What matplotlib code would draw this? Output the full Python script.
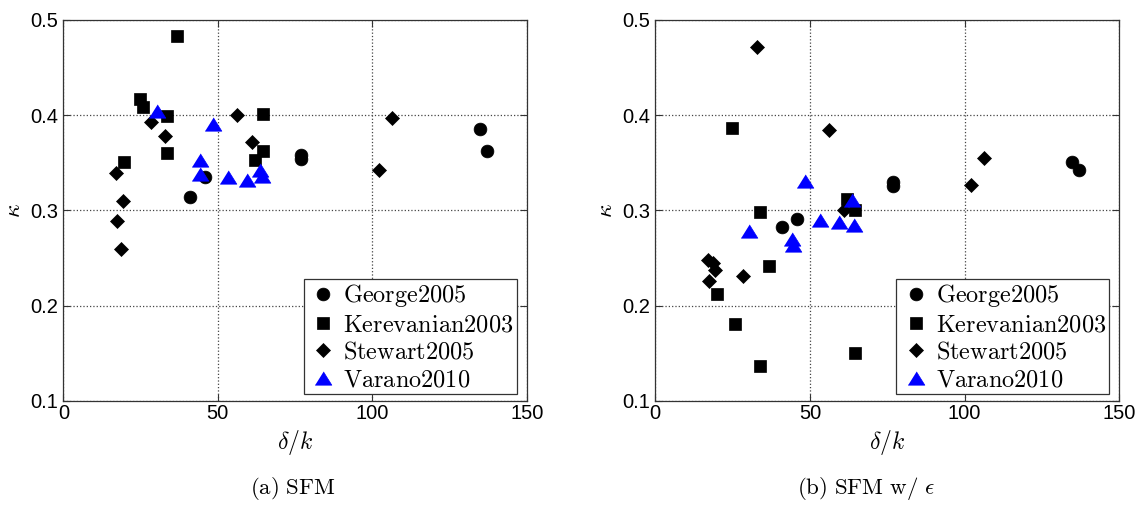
import matplotlib.pyplot as plt

plt.rcParams['mathtext.fontset'] = 'cm'
plt.rcParams['font.family'] = ['Liberation Sans', 'DejaVu Sans']

# delta/k for each data set (same stations in both panels)
george_x = [41.0, 45.9, 77.0, 77.0, 134.8, 137.1]
kerev_x = [36.7, 24.8, 25.7, 33.7, 33.7, 19.8, 64.7, 64.7, 61.9]
stewart_x = [28.3, 33.0, 17.1, 19.2, 17.3, 18.6, 56.2, 61.1, 106.3, 102.2]
varano_x = [30.3, 48.3, 44.2, 44.4, 53.2, 59.5, 63.6, 64.3]

# kappa from SFM
george_sfm = [0.314, 0.335, 0.354, 0.358, 0.386, 0.362]
kerev_sfm = [0.483, 0.4175, 0.409, 0.399, 0.360, 0.351, 0.401, 0.3625, 0.353]
stewart_sfm = [0.393, 0.378, 0.339, 0.310, 0.289, 0.260, 0.400, 0.372, 0.397, 0.343]
varano_sfm = [0.404, 0.391, 0.353, 0.338, 0.335, 0.332, 0.342, 0.336]

# kappa from SFM with epsilon
george_eps = [0.283, 0.291, 0.326, 0.330, 0.351, 0.343]
kerev_eps = [0.242, 0.387, 0.181, 0.298, 0.137, 0.212, 0.150, 0.301, 0.312]
stewart_eps = [0.231, 0.472, 0.248, 0.238, 0.226, 0.245, 0.384, 0.301, 0.355, 0.327]
varano_eps = [0.278, 0.331, 0.270, 0.264, 0.290, 0.288, 0.311, 0.285]

labels = ['George2005', 'Kerevanian2003', 'Stewart2005', 'Varano2010']
captions = [r'$\mathrm{(a)\ SFM}$', r'$\mathrm{(b)\ SFM\ w/}\ \epsilon$']
caption_x = [293 / 1143, 866 / 1143]

# wide, flat triangle like the original marker
tri = [(-1, -0.8), (1, -0.8), (0, 0.8)]

fig = plt.figure(figsize=(11.43, 5.15), dpi=100)
ax1 = fig.add_axes([0.0554, 0.2214, 0.4054, 0.7398])
ax2 = fig.add_axes([0.5733, 0.2214, 0.4060, 0.7398])

panels = [
    (ax1, [george_sfm, kerev_sfm, stewart_sfm, varano_sfm]),
    (ax2, [george_eps, kerev_eps, stewart_eps, varano_eps]),
]

for i, (ax, ys) in enumerate(panels):
    ax.plot(george_x, ys[0], 'o', color='k', ms=9.2, mew=0.5, label=r'$\mathrm{%s}$' % labels[0])
    ax.plot(kerev_x, ys[1], 's', color='k', ms=8.2, mew=0.5, label=r'$\mathrm{%s}$' % labels[1])
    ax.plot(stewart_x, ys[2], 'D', color='k', ms=7.4, mew=0.5, label=r'$\mathrm{%s}$' % labels[2])
    ax.plot(varano_x, ys[3], marker=tri, ls='none', color='b', ms=12, mew=0.5, label=r'$\mathrm{%s}$' % labels[3])

    ax.set_xlim(0, 150)
    ax.set_ylim(0.1, 0.5)
    ax.set_xticks([0, 50, 100, 150])
    ax.set_yticks([0.1, 0.2, 0.3, 0.4, 0.5])
    ax.set_yticklabels(['0.1', '0.2', '0.3', '0.4', '0.5'])
    ax.grid(True, ls=':', color='#444444', lw=0.9)
    ax.tick_params(direction='in', length=5, width=0.8, color='#333333',
                   top=True, right=True, labelsize=14.5)
    ax.tick_params(axis='y', pad=3.5)
    ax.tick_params(axis='x', pad=2.5)
    for s in ax.spines.values():
        s.set_color('#333333')
        s.set_linewidth(0.9)

    ax.set_xlabel(r'$\delta/k$', fontsize=17, labelpad=3)
    ax.set_ylabel(r'$\kappa$', fontsize=17, labelpad=4)

    leg = ax.legend(loc='lower right', bbox_to_anchor=(0.978, 0.018), fontsize=17.5,
                    fancybox=False, framealpha=1, edgecolor='#333333',
                    handletextpad=0.15, handlelength=1.35, labelspacing=0.22,
                    borderpad=0.12, borderaxespad=0)
    leg.get_frame().set_linewidth(0.9)

    fig.text(caption_x[i], 1 - 489 / 515, captions[i], ha='center', va='center', fontsize=16.5)

fig.savefig('out.png', dpi=100)
